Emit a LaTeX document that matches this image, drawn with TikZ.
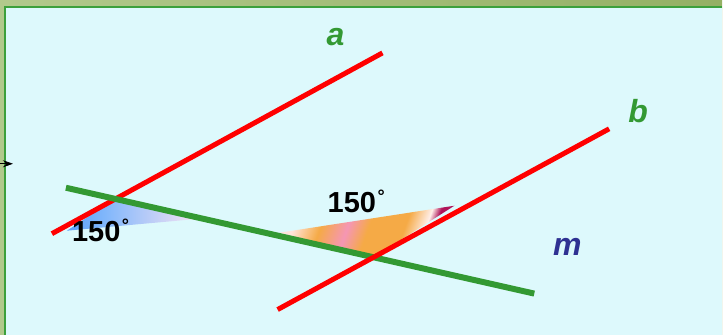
\documentclass[tikz,border=0pt]{standalone}
\usepackage{fontspec}
\setmainfont{Liberation Sans}
\usetikzlibrary{arrows.meta}

\definecolor{bandleft}{RGB}{178,201,140}
\definecolor{bandright}{RGB}{148,176,100}
\definecolor{boardfill}{RGB}{221,249,252}
\definecolor{boardedge}{RGB}{60,160,60}
\definecolor{linered}{RGB}{255,0,0}
\definecolor{linegreen}{RGB}{51,153,51}
\definecolor{labelblue}{RGB}{46,49,146}
\definecolor{coolblue}{RGB}{90,160,250}
\definecolor{coolpink}{RGB}{250,228,242}
\definecolor{warmpale}{RGB}{255,228,218}
\definecolor{warmorange}{RGB}{245,170,70}
\definecolor{warmrose}{RGB}{245,150,180}
\definecolor{warmlight}{RGB}{255,238,232}
\definecolor{warmmagenta}{RGB}{175,20,90}

\pgfdeclarehorizontalshading{coolband}{100bp}{color(0bp)=(coolblue); color(25bp)=(coolblue); color(40bp)=(coolblue!75!white); color(75bp)=(coolpink); color(100bp)=(coolpink)}
\pgfdeclarehorizontalshading{warmband}{100bp}{color(0bp)=(warmpale); color(25bp)=(warmpale); color(34bp)=(warmorange); color(43bp)=(warmrose); color(50bp)=(warmorange); color(62bp)=(warmorange); color(69bp)=(warmlight); color(72bp)=(warmmagenta); color(75bp)=(warmmagenta); color(100bp)=(warmmagenta)}

\newcommand{\degring}{\kern1.5pt\raisebox{10pt}{\fontsize{18}{18}\selectfont°}}

\begin{document}
\begin{tikzpicture}[x=1pt,y=-1pt,
    redline/.style={line width=5pt, linered},
    greenline/.style={line width=6pt, linegreen},
    letter/.style={font=\fontsize{32}{32}\selectfont\bfseries\itshape},
    angletext/.style={font=\fontsize{29}{29}\selectfont\bfseries, text=black, inner sep=0pt}
]
% frame
\shade[left color=bandleft, right color=bandright] (0,0) rectangle (723,335);
\fill[boardfill] (5,7) rectangle (723,335);
\draw[boardedge, line width=2pt] (723,7) -- (5,7) -- (5,335);
\useasboundingbox (0,0) rectangle (723,335);

\coordinate (tail) at (0,164);
\coordinate (tip) at (13,164);
\draw[-{Stealth[length=10pt,width=7pt]}, black, line width=0.8pt] (tail) -- (tip);

% lines
\coordinate (a1) at (52,234);
\coordinate (a2) at (383,53);
\coordinate (b1) at (278,310);
\coordinate (b2) at (610,129);
\coordinate (m1) at (66,188);
\coordinate (m2) at (535,294);
\coordinate (va) at (intersection of a1--a2 and m1--m2);
\coordinate (vb) at (intersection of b1--b2 and m1--m2);

% angle sectors
\shade[shading=coolband] (va) -- (67,231) -- (200,219) -- cycle;
\shade[shading=warmband, shading angle=-20] (vb) -- (280,233) -- (455,206) -- cycle;

\draw[redline] (a1) -- (a2);
\draw[greenline] (m1) -- (m2);
\draw[redline] (b1) -- (b2);

% labels
\node[letter, text=linegreen] (la) at (336,37) {a};
\node[letter, text=linegreen] (lb) at (639,111) {b};
\node[letter, text=labelblue] (lm) at (568,247) {m};
\node[angletext, anchor=base west] (angA) at (72,242) {150\degring};
\node[angletext, anchor=base west] (angB) at (328,213) {150\degring};
\end{tikzpicture}
\end{document}
